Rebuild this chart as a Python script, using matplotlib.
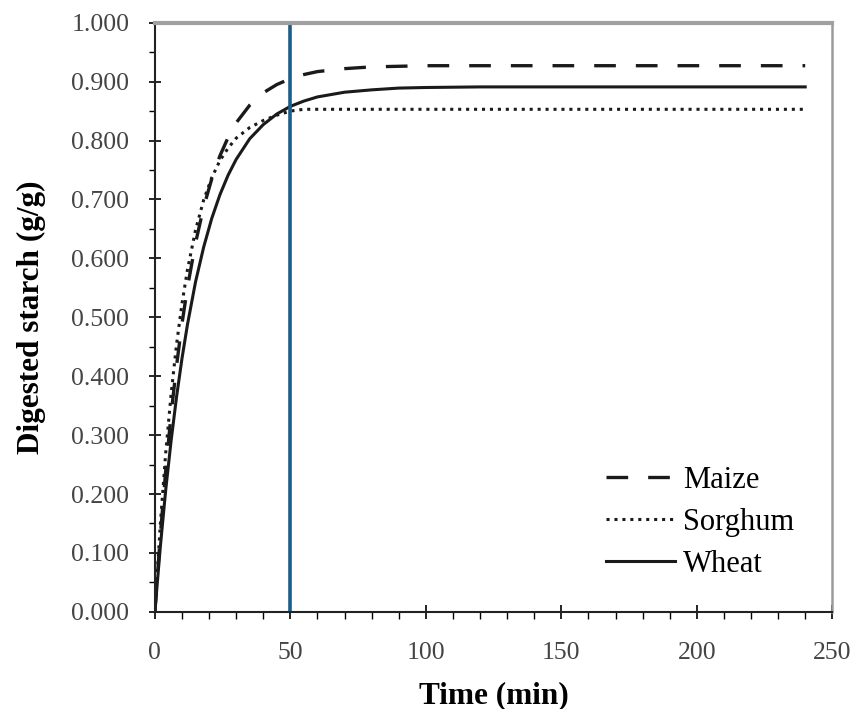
import numpy as np
import matplotlib.pyplot as plt
from matplotlib.ticker import MultipleLocator, FormatStrFormatter

# digestion time (min)
time = [0, 2, 4, 6, 8, 10, 12, 15, 18, 21, 24, 27, 30, 35, 40, 45, 50,
        55, 60, 70, 80, 90, 100, 120, 150, 180, 210, 240]

# digested starch (g/g)
maize = [0.000, 0.129, 0.240, 0.336, 0.418, 0.489, 0.550, 0.626, 0.687, 0.735,
         0.774, 0.805, 0.830, 0.860, 0.881, 0.895, 0.905, 0.912, 0.917, 0.922,
         0.925, 0.926, 0.927, 0.927, 0.927, 0.927, 0.927, 0.927]
sorghum = [0.000, 0.148, 0.270, 0.370, 0.454, 0.523, 0.580, 0.648, 0.699, 0.737,
           0.766, 0.787, 0.804, 0.822, 0.834, 0.843, 0.850, 0.853, 0.853, 0.853,
           0.853, 0.853, 0.853, 0.853, 0.853, 0.853, 0.853, 0.853]
wheat = [0.000, 0.110, 0.207, 0.291, 0.365, 0.430, 0.487, 0.560, 0.619, 0.668,
         0.708, 0.741, 0.768, 0.803, 0.827, 0.845, 0.858, 0.867, 0.874, 0.882,
         0.886, 0.889, 0.890, 0.891, 0.891, 0.891, 0.891, 0.891]

cut_time = 50

plt.rcParams['font.family'] = ['Liberation Serif', 'DejaVu Serif']

fig = plt.figure(figsize=(8.51, 7.09), dpi=100)
ax = fig.add_axes([0.182, 0.137, 0.796, 0.831])

ax.plot(time, maize, color='#1a1a1a', lw=2.4, linestyle=(0, (6.5, 6)), label='Maize')
ax.plot(time, sorghum, color='#1a1a1a', lw=2.2, linestyle=(0, (1, 1.6)), label='Sorghum')
ax.plot(time, wheat, color='#1a1a1a', lw=2.2, linestyle='-', label='Wheat')
ax.axvline(cut_time, color='#1b5e88', lw=2.6)

ax.set_xlim(0, 250)
ax.set_ylim(0, 1.0)
ax.xaxis.set_major_locator(MultipleLocator(50))
ax.xaxis.set_minor_locator(MultipleLocator(10))
ax.yaxis.set_major_locator(MultipleLocator(0.1))
ax.yaxis.set_minor_locator(MultipleLocator(0.05))
ax.yaxis.set_major_formatter(FormatStrFormatter('%.3f'))

ax.tick_params(axis='x', which='major', direction='inout', length=10, width=1.2,
               labelsize=18.5, labelcolor='#444444', pad=17)
ax.tick_params(axis='x', which='minor', direction='out', length=5, width=1)
ax.tick_params(axis='y', which='major', direction='inout', length=9, width=1.2,
               labelsize=18.5, labelcolor='#444444', pad=14)
ax.tick_params(axis='y', which='minor', direction='out', length=4, width=1)

for side in ['left', 'bottom']:
    ax.spines[side].set_color('#222222')
    ax.spines[side].set_linewidth(1.5)
ax.spines['top'].set_color('#a0a0a0')
ax.spines['top'].set_linewidth(3)
ax.spines['right'].set_color('#9a9a9a')
ax.spines['right'].set_linewidth(1.8)

ax.set_xlabel('Time (min)', fontsize=22.5, fontweight='bold', labelpad=12)
ax.set_ylabel('Digested starch (g/g)', fontsize=22.5, fontweight='bold', labelpad=18)

ax.legend(loc='lower right', frameon=False, fontsize=22, handlelength=2.26,
          handletextpad=0.26, labelspacing=0.43, borderaxespad=0,
          bbox_to_anchor=(0.962, 0.035))

fig.savefig('out.png', dpi=100)
